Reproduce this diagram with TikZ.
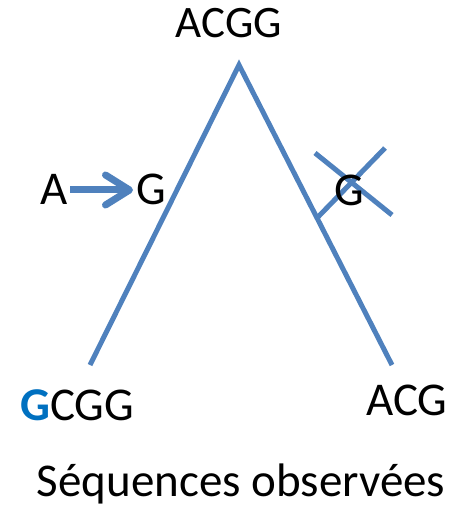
\documentclass[tikz,border=0pt]{standalone}
\usepackage{fontspec}
\setmainfont{Carlito}
\usetikzlibrary{arrows.meta,calc}
\definecolor{treeblue}{HTML}{4F81BD}
\definecolor{mutblue}{HTML}{0070C0}
\begin{document}
\begin{tikzpicture}[x=1pt,y=-1pt,
  lbl/.style={anchor=base,inner sep=0pt,font=\fontsize{47}{56}\selectfont},
  branch/.style={draw=treeblue,line width=5pt},
  mutarrow/.style={draw=treeblue,line width=7pt,-{Straight Barb[length=24pt,width=30pt,round]}}]
\useasboundingbox (0,0) rectangle (460,510);
\node[lbl,font=\fontsize{45}{54}\selectfont] (root) at (229,38) {ACGG};
\coordinate (apex) at (239,65);
\coordinate (left) at (90,365);
\coordinate (right) at (392,365);
\draw[branch,line join=miter] (left) -- (apex) -- (right);
\coordinate (bp) at ($(apex)!0.51!(right)$);
\coordinate (bt) at (385,148);
\draw[branch] (bp) -- (bt);
\coordinate (xa) at (315,153);
\coordinate (xb) at (392,215);
\draw[branch] (xa) -- (xb);
\node[lbl] (gr) at (349,206) {G};
\node[lbl] (a) at (54,205) {A};
\node[lbl] (g) at (151,205) {G};
\coordinate (as) at (70,190);
\coordinate (ae) at (133,190);
\draw[mutarrow] (as) -- (ae);
\node[lbl] (leafl) at (77,420) {{\color{mutblue}\bfseries G}CGG};
\node[lbl] (leafr) at (407,415) {ACG};
\node[lbl] (cap) at (241,496) {Séquences observées};
\end{tikzpicture}
\end{document}
